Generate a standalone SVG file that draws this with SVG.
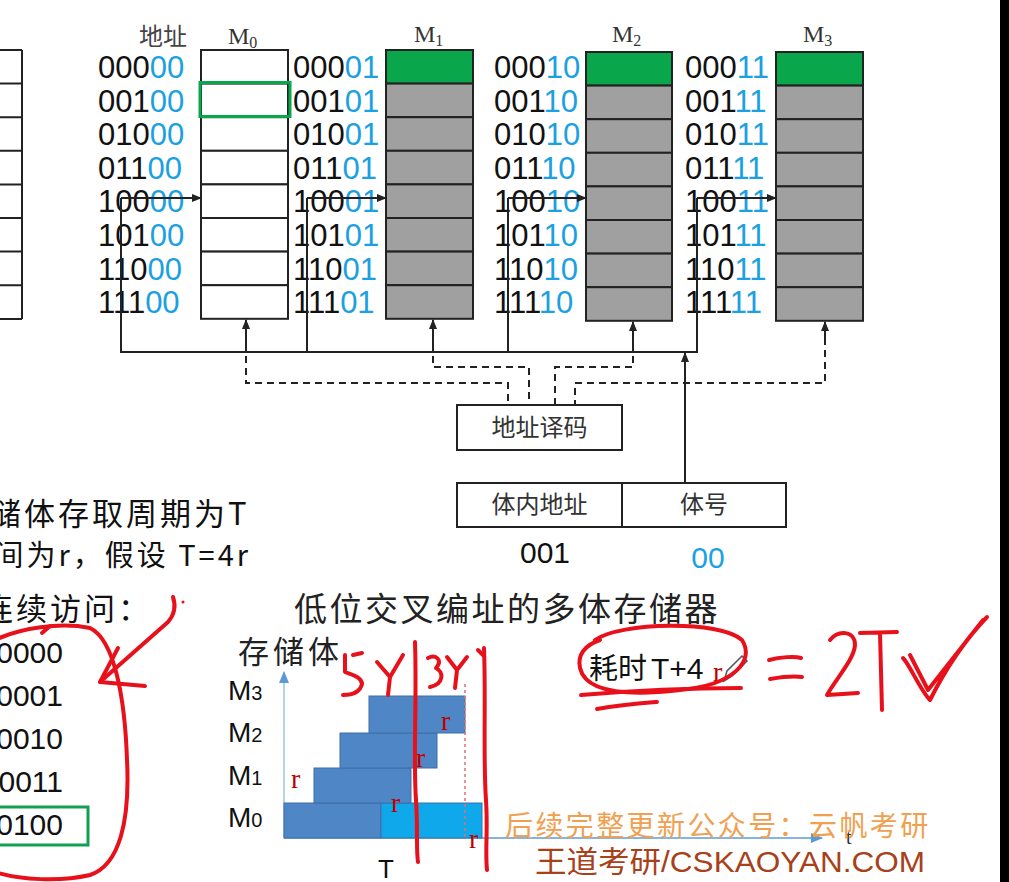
<svg xmlns="http://www.w3.org/2000/svg" width="1009" height="882" viewBox="0 0 1009 882">
<defs>
<style>
.lbl{font-family:"Liberation Sans","Noto Sans CJK SC",sans-serif;font-size:31px;fill:#111}
.bl{fill:#1ba1e2}
.cell{fill:#fff;stroke:#222;stroke-width:2}
.gc{fill:#a0a0a0;stroke:#222;stroke-width:2}
.gr{fill:#0aa64b;stroke:#222;stroke-width:2}
.ln{fill:none;stroke:#222;stroke-width:2}
.ds{fill:none;stroke:#222;stroke-width:2;stroke-dasharray:7 5}
.ser{font-family:"Liberation Serif",serif;fill:#333}
.cjk{font-family:"Noto Sans CJK SC",sans-serif}
.txt{font-family:"Liberation Sans","Noto Sans CJK SC",sans-serif;fill:#111}
.red{fill:none;stroke:#e8101a;stroke-linecap:round;stroke-linejoin:round;stroke-width:4}
.rr{font-family:"Liberation Serif",serif;fill:#c00000;font-size:28px}
.bar{fill:#4f86c6;stroke:#3f6fa8;stroke-width:1}
.mlab{font-family:"Liberation Sans",sans-serif;font-size:28px;fill:#111}
</style>
<marker id="ah" markerWidth="10" markerHeight="8" refX="9" refY="4" orient="auto" markerUnits="userSpaceOnUse"><path d="M0,0 L10,4 L0,8 Z" fill="#222"/></marker>
<marker id="bah" markerWidth="12" markerHeight="10" refX="11" refY="5" orient="auto" markerUnits="userSpaceOnUse"><path d="M0,0 L12,5 L0,10 Z" fill="#5b9bd5"/></marker>
</defs>
<rect x="0" y="0" width="1009" height="882" fill="#ffffff"/>

<g id="left-table">
<path class="ln" d="M22,50 V319 M0,50 H22 M0,83.6 H22 M0,117.2 H22 M0,150.8 H22 M0,184.4 H22 M0,218 H22 M0,251.6 H22 M0,285.2 H22 M0,319 H22"/>
</g>

<g id="header">
<text class="cjk" x="139" y="45" font-size="24" fill="#444">地址</text>
<text class="ser" x="228" y="44" font-size="24">M<tspan font-size="16" dy="4">0</tspan></text>
<text class="ser" x="414" y="42" font-size="24">M<tspan font-size="16" dy="4">1</tspan></text>
<text class="ser" x="612" y="42" font-size="24">M<tspan font-size="16" dy="4">2</tspan></text>
<text class="ser" x="803" y="42" font-size="24">M<tspan font-size="16" dy="4">3</tspan></text>
</g>

<g id="bank-M0">
<rect class="cell" x="201" y="50" width="87" height="33.6"/>
<rect class="cell" x="201" y="83.6" width="87" height="33.6"/>
<rect class="cell" x="201" y="117.2" width="87" height="33.6"/>
<rect class="cell" x="201" y="150.8" width="87" height="33.6"/>
<rect class="cell" x="201" y="184.4" width="87" height="33.6"/>
<rect class="cell" x="201" y="218" width="87" height="33.6"/>
<rect class="cell" x="201" y="251.6" width="87" height="33.6"/>
<rect class="cell" x="201" y="285.2" width="87" height="33.6"/>
<rect x="200" y="82.5" width="90" height="34" fill="none" stroke="#0aa64b" stroke-width="3"/>
<text class="lbl" x="98" y="78">000<tspan class="bl">00</tspan></text>
<text class="lbl" x="98" y="111.6">001<tspan class="bl">00</tspan></text>
<text class="lbl" x="98" y="145.2">010<tspan class="bl">00</tspan></text>
<text class="lbl" x="98" y="178.8">011<tspan class="bl">00</tspan></text>
<text class="lbl" x="98" y="212.4">100<tspan class="bl">00</tspan></text>
<text class="lbl" x="98" y="246">101<tspan class="bl">00</tspan></text>
<text class="lbl" x="98" y="279.6">110<tspan class="bl">00</tspan></text>
<text class="lbl" x="98" y="313.2">111<tspan class="bl">00</tspan></text>
</g>

<g id="bank-M1">
<rect class="gr" x="386" y="50" width="87" height="33.6"/>
<rect class="gc" x="386" y="83.6" width="87" height="33.6"/>
<rect class="gc" x="386" y="117.2" width="87" height="33.6"/>
<rect class="gc" x="386" y="150.8" width="87" height="33.6"/>
<rect class="gc" x="386" y="184.4" width="87" height="33.6"/>
<rect class="gc" x="386" y="218" width="87" height="33.6"/>
<rect class="gc" x="386" y="251.6" width="87" height="33.6"/>
<rect class="gc" x="386" y="285.2" width="87" height="33.6"/>
<text class="lbl" x="293" y="78">000<tspan class="bl">01</tspan></text>
<text class="lbl" x="293" y="111.6">001<tspan class="bl">01</tspan></text>
<text class="lbl" x="293" y="145.2">010<tspan class="bl">01</tspan></text>
<text class="lbl" x="293" y="178.8">011<tspan class="bl">01</tspan></text>
<text class="lbl" x="293" y="212.4">100<tspan class="bl">01</tspan></text>
<text class="lbl" x="293" y="246">101<tspan class="bl">01</tspan></text>
<text class="lbl" x="293" y="279.6">110<tspan class="bl">01</tspan></text>
<text class="lbl" x="293" y="313.2">111<tspan class="bl">01</tspan></text>
</g>

<g id="bank-M2">
<rect class="gr" x="586" y="52" width="86" height="33.6"/>
<rect class="gc" x="586" y="85.6" width="86" height="33.6"/>
<rect class="gc" x="586" y="119.2" width="86" height="33.6"/>
<rect class="gc" x="586" y="152.8" width="86" height="33.6"/>
<rect class="gc" x="586" y="186.4" width="86" height="33.6"/>
<rect class="gc" x="586" y="220" width="86" height="33.6"/>
<rect class="gc" x="586" y="253.6" width="86" height="33.6"/>
<rect class="gc" x="586" y="287.2" width="86" height="33.6"/>
<text class="lbl" x="494" y="78">000<tspan class="bl">10</tspan></text>
<text class="lbl" x="494" y="111.6">001<tspan class="bl">10</tspan></text>
<text class="lbl" x="494" y="145.2">010<tspan class="bl">10</tspan></text>
<text class="lbl" x="494" y="178.8">011<tspan class="bl">10</tspan></text>
<text class="lbl" x="494" y="212.4">100<tspan class="bl">10</tspan></text>
<text class="lbl" x="494" y="246">101<tspan class="bl">10</tspan></text>
<text class="lbl" x="494" y="279.6">110<tspan class="bl">10</tspan></text>
<text class="lbl" x="494" y="313.2">111<tspan class="bl">10</tspan></text>
</g>

<g id="bank-M3">
<rect class="gr" x="776" y="52" width="87" height="33.6"/>
<rect class="gc" x="776" y="85.6" width="87" height="33.6"/>
<rect class="gc" x="776" y="119.2" width="87" height="33.6"/>
<rect class="gc" x="776" y="152.8" width="87" height="33.6"/>
<rect class="gc" x="776" y="186.4" width="87" height="33.6"/>
<rect class="gc" x="776" y="220" width="87" height="33.6"/>
<rect class="gc" x="776" y="253.6" width="87" height="33.6"/>
<rect class="gc" x="776" y="287.2" width="87" height="33.6"/>
<text class="lbl" x="685" y="78">000<tspan class="bl">11</tspan></text>
<text class="lbl" x="685" y="111.6">001<tspan class="bl">11</tspan></text>
<text class="lbl" x="685" y="145.2">010<tspan class="bl">11</tspan></text>
<text class="lbl" x="685" y="178.8">011<tspan class="bl">11</tspan></text>
<text class="lbl" x="685" y="212.4">100<tspan class="bl">11</tspan></text>
<text class="lbl" x="685" y="246">101<tspan class="bl">11</tspan></text>
<text class="lbl" x="685" y="279.6">110<tspan class="bl">11</tspan></text>
<text class="lbl" x="685" y="313.2">111<tspan class="bl">11</tspan></text>
</g>

<g id="decoder">
<rect x="457" y="405" width="165" height="45" fill="#fff" stroke="#222" stroke-width="2"/>
<text class="cjk" x="539.5" y="436" font-size="24" fill="#333" text-anchor="middle">地址译码</text>
</g>

<g id="address-register">
<rect x="457" y="483" width="329" height="44" fill="#fff" stroke="#222" stroke-width="2"/>
<line x1="622" y1="483" x2="622" y2="527" stroke="#222" stroke-width="2"/>
<text class="cjk" x="539.5" y="513" font-size="24" fill="#333" text-anchor="middle">体内地址</text>
<text class="cjk" x="704" y="513" font-size="24" fill="#333" text-anchor="middle">体号</text>
<text class="txt" x="545" y="563" font-size="30" text-anchor="middle">001</text>
<text class="txt" x="708" y="568" font-size="30" text-anchor="middle" style="fill:#1ba1e2">00</text>
</g>

<g id="connectors">
<path class="ln" d="M121,198 V352 H697 V198 M307,198 V352 M508,198 V352"/>
<line class="ln" x1="121" y1="198" x2="201" y2="198" marker-end="url(#ah)"/>
<line class="ln" x1="307" y1="198" x2="386" y2="198" marker-end="url(#ah)"/>
<line class="ln" x1="508" y1="198" x2="586" y2="198" marker-end="url(#ah)"/>
<line class="ln" x1="697" y1="198" x2="776" y2="198" marker-end="url(#ah)"/>
<line class="ln" x1="246" y1="352" x2="246" y2="320" marker-end="url(#ah)"/>
<line class="ln" x1="433" y1="352" x2="433" y2="320" marker-end="url(#ah)"/>
<line class="ln" x1="633" y1="352" x2="633" y2="322" marker-end="url(#ah)"/>
<line class="ln" x1="825" y1="338" x2="825" y2="322" marker-end="url(#ah)"/>
<path class="ds" d="M246,356 V383 H508 V405"/>
<path class="ds" d="M433,356 V367 H529 V405"/>
<path class="ds" d="M633,356 V367 H555 V405"/>
<path class="ds" d="M825,338 V383 H575 V405"/>
<line class="ln" x1="685" y1="483" x2="685" y2="353" marker-end="url(#ah)"/>
</g>

<g id="left-text">
<text class="cjk" x="-10" y="525" font-size="31" fill="#111" letter-spacing="3">储体存取周期为<tspan letter-spacing="0">T</tspan></text>
<text class="cjk" x="251" y="566" font-size="29" fill="#111" text-anchor="end" letter-spacing="3">间为r，假设 T=4r</text>
<text class="cjk" x="152" y="620" font-size="31" fill="#111" text-anchor="end" letter-spacing="3">连续访问：</text>
<text class="txt" x="63" y="663" font-size="30" text-anchor="end">00000</text>
<text class="txt" x="63" y="706" font-size="30" text-anchor="end">00001</text>
<text class="txt" x="63" y="749" font-size="30" text-anchor="end">00010</text>
<text class="txt" x="63" y="792" font-size="30" text-anchor="end">00011</text>
<text class="txt" x="63" y="835" font-size="30" text-anchor="end">00100</text>
<rect x="-3" y="807" width="91" height="38" fill="none" stroke="#10a050" stroke-width="3"/>
</g>

<g id="title">
<text class="cjk" x="294" y="621" font-size="33" fill="#222" letter-spacing="2.5">低位交叉编址的多体存储器</text>
</g>

<g id="timing-chart">
<text class="cjk" x="238" y="663" font-size="31" fill="#222" letter-spacing="4">存储体</text>
<line x1="284" y1="838" x2="284" y2="672" stroke="#9dc3e6" stroke-width="1.5" marker-end="url(#bah)"/>
<line x1="284" y1="838" x2="822" y2="838" stroke="#5b9bd5" stroke-width="1.5" marker-end="url(#bah)"/>
<text class="mlab" x="228" y="700">M<tspan font-size="20">3</tspan></text>
<text class="mlab" x="228" y="742">M<tspan font-size="20">2</tspan></text>
<text class="mlab" x="228" y="785">M<tspan font-size="20">1</tspan></text>
<text class="mlab" x="228" y="827">M<tspan font-size="20">0</tspan></text>
<rect class="bar" x="284" y="803" width="97" height="35"/>
<rect x="381" y="803" width="101" height="35" fill="#0fa8ea" stroke="#3f6fa8" stroke-width="1"/>
<rect class="bar" x="314" y="768" width="97" height="35"/>
<rect class="bar" x="340" y="733" width="97" height="35"/>
<rect class="bar" x="369" y="696" width="96" height="37"/>
<line x1="465" y1="684" x2="465" y2="838" stroke="#e07070" stroke-width="1.5" stroke-dasharray="3 3"/>
<text class="rr" x="291" y="788">r</text>
<text class="rr" x="391" y="812">r</text>
<text class="rr" x="416" y="767">r</text>
<text class="rr" x="441" y="730">r</text>
<text class="rr" x="469" y="848">r</text>
<text class="txt" x="378" y="878" font-size="26">T</text>
<text class="ser" x="846" y="844" font-size="20" fill="#111">t</text>
</g>

<g id="cost">
<text class="cjk" x="589" y="679" font-size="29" fill="#111">耗时<tspan font-family="Liberation Sans,sans-serif" font-size="30" dx="4">T+4</tspan></text>
<text class="rr" x="713" y="681" font-size="22">r</text>
<path d="M724,681 L727,671 L742,656 L747,661 L732,676 Z" fill="#fff" stroke="#555" stroke-width="1.5"/>
</g>

<g id="watermark">
<text class="cjk" x="505" y="836" font-size="28" fill="#f0a050" letter-spacing="2.4">后续完整更新公众号：云帆考研</text>
<text x="535" y="872" font-size="30" fill="#a8401a" font-family="Liberation Sans,Noto Sans CJK SC,sans-serif" textLength="390" lengthAdjust="spacingAndGlyphs">王道考研/CSKAOYAN.COM</text>
</g>

<g id="annotations">
<path class="red" d="M-5,640 C20,628 60,622 90,628 C115,640 125,700 127,760 C130,820 120,865 90,875 C60,882 20,880 -5,872"/>
<path class="red" d="M42,633 L50,626"/>
<path class="red" d="M173,597 C176,606 175,614 168,622 L100,682"/>
<path class="red" d="M118,648 L100,682 L145,686"/>
<circle cx="183" cy="602" r="1.5" fill="#e8101a"/>
<path class="red" d="M595,640 C620,622 720,620 742,640 C755,660 735,685 680,690 C620,697 585,690 580,668 C577,655 585,645 600,640"/>
<path class="red" d="M581,695 C640,690 700,688 741,688 M597,709 C620,705 645,703 657,702"/>
<path class="red" d="M769,660 C780,657 795,656 801,658 M770,679 C782,677 795,676 802,677"/>
<path class="red" d="M830,640 C838,630 855,630 855,645 C854,660 835,680 827,695 L858,693"/>
<path class="red" d="M860,633 L897,632 M880,633 L882,710"/>
<path class="red" stroke-width="6" d="M903,658 C910,665 920,690 930,700 C945,670 965,640 987,617 M910,655 L928,690 L983,620"/>
<path class="red" d="M353,655 L362,653 M345,655 L345,672 C352,675 362,677 362,684 C360,692 352,695 343,695"/>
<path class="red" d="M377,662 L390,677 L403,655 M390,677 L388,695"/>
<path class="red" d="M428,658 C436,654 443,660 436,668 C444,672 444,684 430,687"/>
<path class="red" d="M447,657 L457,670 L467,657 M457,670 L455,688"/>
<path class="red" d="M478,650 L484,656"/>
<path class="red" stroke-width="6" d="M415,642 C417,700 413,760 416,800 C418,830 416,850 418,862"/>
<path class="red" stroke-width="6" d="M484,648 C486,700 483,760 486,800 C488,830 485,850 487,870"/>
</g>

<rect id="screen-edge" x="1000" y="0" width="9" height="882" fill="#000"/>
</svg>
